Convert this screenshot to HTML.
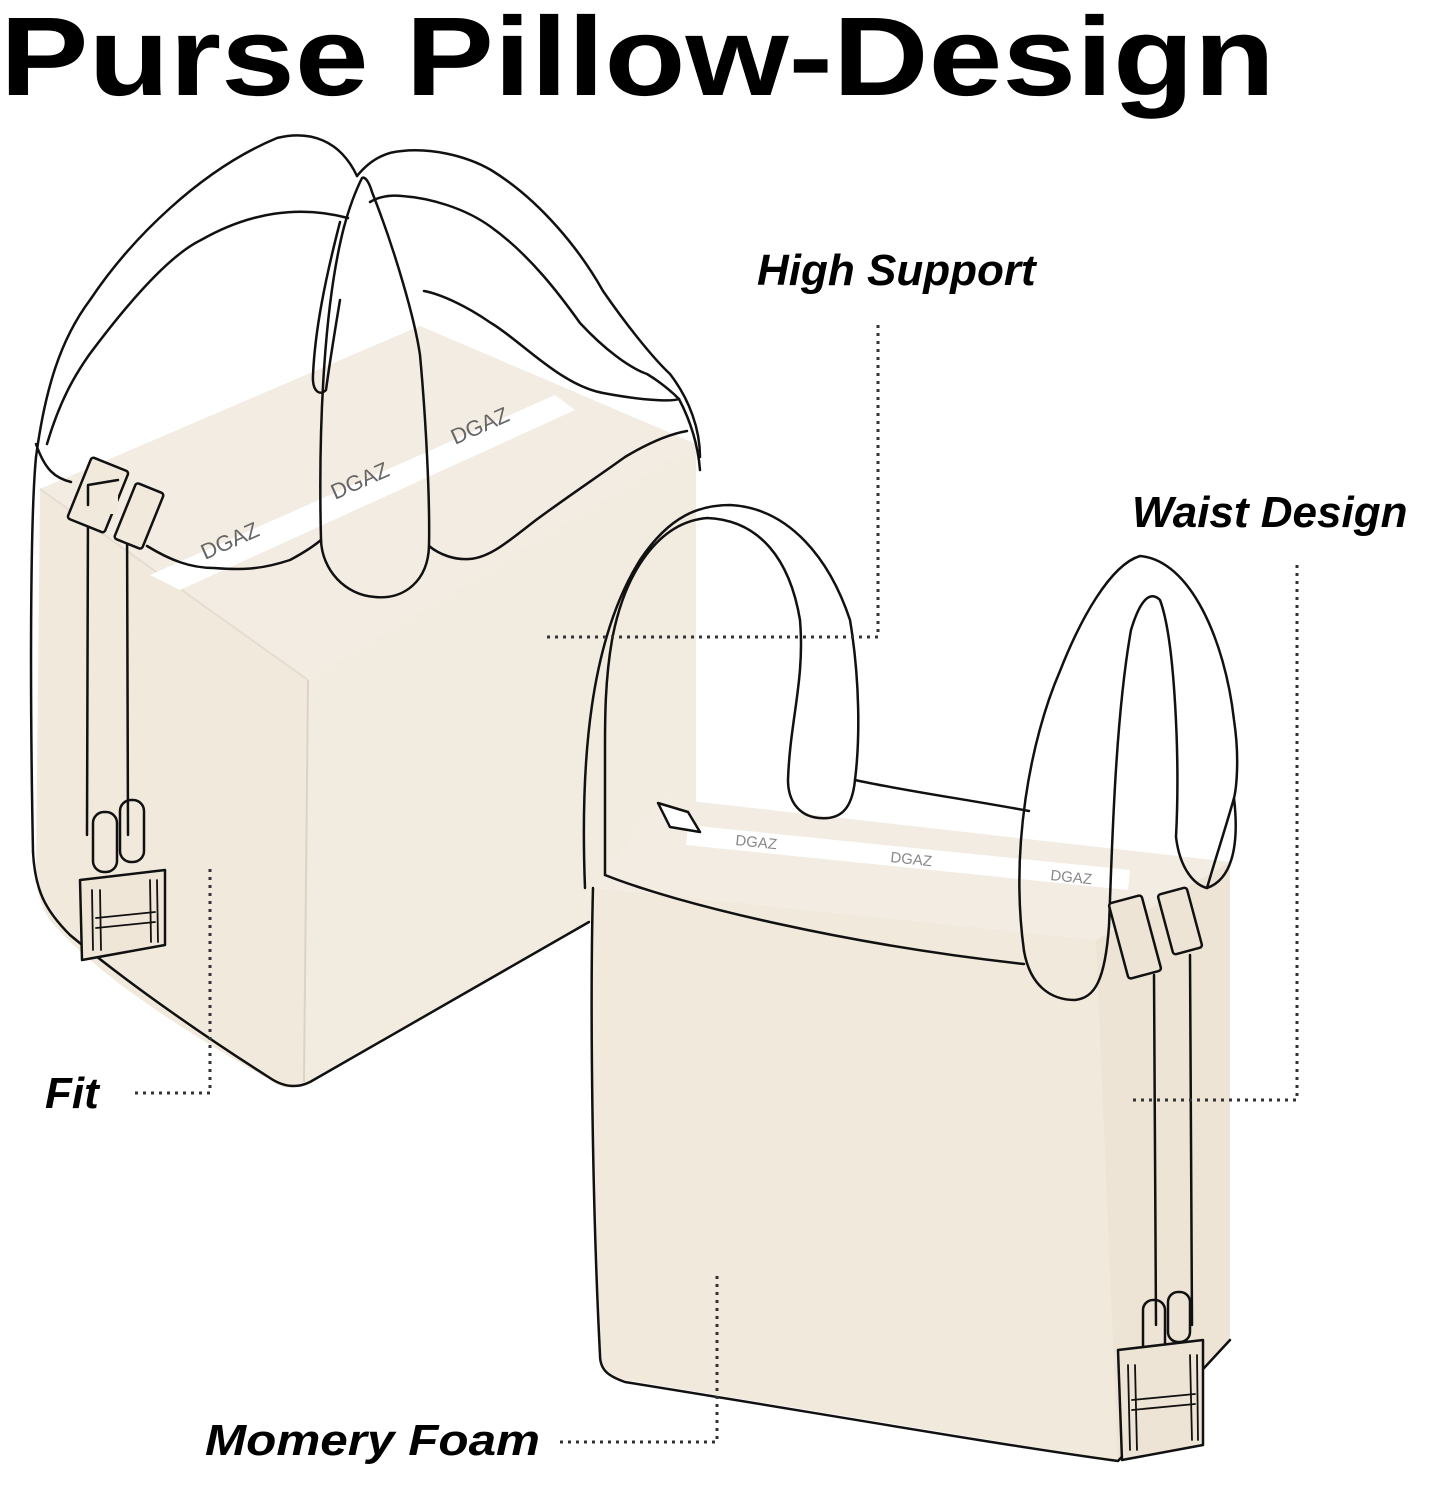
<!DOCTYPE html>
<html><head><meta charset="utf-8"><style>
html,body{margin:0;padding:0;background:#fff;}
svg{display:block;}
</style></head><body>
<svg width="1439" height="1500" viewBox="0 0 1439 1500" xmlns="http://www.w3.org/2000/svg">
<text x="0" y="95" font-family="Liberation Sans, sans-serif" font-weight="bold" font-size="112" fill="#000" textLength="1275" lengthAdjust="spacingAndGlyphs">Purse Pillow-Design</text>

<!-- LEFT BAG box -->
<path d="M40,489 L420,326 L696,444 L696,832 L589,922 L304,1084 C290,1090 280,1088 270,1080 C200,1040 100,980 50,920 C40,905 36,890 36,870 Z" fill="#f1e9dc"/>
<path d="M40,489 L420,326 L696,444 L308,680 Z" fill="#f3ece2"/>
<path d="M308,680 L696,444 L696,832 L589,922 L304,1084 Z" fill="#f2ebe0"/>
<line x1="308" y1="680" x2="304" y2="1082" stroke="#ddd3c4" stroke-width="2"/>
<line x1="40" y1="489" x2="308" y2="680" stroke="#e6ddd0" stroke-width="2"/>
<!-- tape -->
<path d="M150,575 L555,395 L575,410 L180,590 Z" fill="#fff"/>
<text x="205" y="560" font-family="Liberation Sans, sans-serif" font-size="22" fill="#666" transform="rotate(-24 205 560)">DGAZ</text>
<text x="335" y="500" font-family="Liberation Sans, sans-serif" font-size="22" fill="#666" transform="rotate(-24 335 500)">DGAZ</text>
<text x="455" y="445" font-family="Liberation Sans, sans-serif" font-size="22" fill="#666" transform="rotate(-24 455 445)">DGAZ</text>

<g stroke="#111" stroke-width="2.5" fill="none" stroke-linecap="round" stroke-linejoin="round">
  <path d="M33,852 C35,890 45,910 70,935 C130,985 210,1040 270,1078 C285,1088 298,1088 310,1082 L589,922"/>
  <path d="M33,852 C30,700 30,520 36,457 C45,390 60,340 90,300 C130,240 200,170 277,138 C310,130 340,140 357,176"/>
  <path d="M47,444 C60,400 75,375 89,355 C130,300 170,255 201,240 C250,212 300,205 348,218"/>
  <path d="M36,444 C45,470 55,478 71,482 M147,546 C170,560 190,568 214,568 C240,570 260,570 290,560 C305,552 315,545 321,540"/>
  <path d="M321,540 C318,420 325,300 344,227 C350,205 356,190 362,178 C366,176 370,185 372,192 C395,250 415,320 420,355 C426,420 430,500 429,546 C428,580 405,600 375,597 C345,595 322,570 321,540"/>
  <path d="M340,222 C325,280 315,330 313,375 C312,392 320,396 326,390 C330,360 335,330 340,300"/>
  <path d="M429,546 C440,555 455,560 469,559 C490,558 510,540 536,520 C570,495 600,475 625,457 C650,442 670,434 687,431"/>
  <path d="M357,176 C370,160 385,152 402,151 C430,148 465,155 491,170 C540,200 580,250 603,291 C630,330 655,360 670,374 C690,400 700,430 700,457"/>
  <path d="M370,202 C380,196 392,195 402,196 C430,198 465,208 491,227 C530,255 560,295 580,323 C605,350 630,368 647,374 C665,385 675,395 679,399 C670,402 640,400 603,393 C560,385 520,340 491,323 C465,305 440,294 424,291"/>
  <path d="M679,399 C690,420 698,445 700,470"/>
  <!-- strap -->
  <path d="M88,505 L87,835 M127,515 L128,835"/>
  <!-- buckle -->
  <rect x="78" y="462" width="40" height="66" rx="3" fill="#f1e9dc" transform="rotate(22 98 495)"/>
  <rect x="124" y="486" width="30" height="60" rx="3" fill="#f1e9dc" transform="rotate(22 139 516)"/>
  <rect x="88" y="484" width="30" height="30" fill="#f1e9dc" stroke="none"/>
  <path d="M88,505 L88,485 L118,480"/>
  <!-- shackles -->
  <rect x="93" y="812" width="24" height="60" rx="11"/>
  <rect x="120" y="800" width="24" height="62" rx="11"/>
  <path d="M80,880 L165,870 L165,945 L82,960 Z" fill="#efe6d8"/>
  <path d="M92,890 L93,950 M100,890 L101,950 M150,880 L151,942 M157,880 L158,942 M96,918 L155,912 M96,928 L155,922" stroke-width="1.8"/>
</g>

<!-- RIGHT BAG box -->
<path d="M593,888 L663,798 L1230,862 L1230,1340 L1118,1461 L625,1380 C605,1376 600,1370 600,1355 C592,1200 590,1000 593,888 Z" fill="#f1e9dc"/>
<path d="M593,888 L663,798 L1230,862 L1096,940 Z" fill="#f3ece2"/>
<path d="M1096,940 L1230,862 L1230,1340 L1118,1461 Z" fill="#ede4d6"/>
<path d="M688,825 L1130,870 L1128,890 L686,845 Z" fill="#fff"/>
<text x="735" y="845" font-family="Liberation Sans, sans-serif" font-size="15" fill="#888" transform="rotate(6 735 845)">DGAZ</text>
<text x="890" y="862" font-family="Liberation Sans, sans-serif" font-size="15" fill="#888" transform="rotate(6 890 862)">DGAZ</text>
<text x="1050" y="880" font-family="Liberation Sans, sans-serif" font-size="15" fill="#888" transform="rotate(6 1050 880)">DGAZ</text>

<g stroke="#111" stroke-width="2.5" fill="none" stroke-linecap="round" stroke-linejoin="round">
  <path d="M593,888 C590,1000 592,1200 600,1355 C600,1370 608,1376 625,1382 C800,1410 1000,1445 1118,1461 L1230,1340"/>
  <path d="M585,888 C580,760 590,640 640,560 C670,515 700,505 730,505 C790,508 830,560 850,620 C860,680 860,740 855,780 C852,810 840,820 819,818 C798,816 788,800 788,780 C790,720 805,680 800,620 C790,560 760,520 707,518 C660,522 625,570 612,640 C605,680 605,720 605,747 C605,800 605,845 605,875"/>
  <path d="M605,875 C680,905 850,945 1024,964"/>
  <path d="M855,780 C900,790 970,800 1029,811"/>
  <path d="M658,803 L688,812 L700,832 L670,827 Z" fill="#fff"/>
  <path d="M1024,951 C1010,850 1030,740 1060,671 C1080,620 1110,565 1140,556 C1190,560 1225,640 1234,720 C1240,760 1236,790 1234,798 C1225,830 1215,860 1207,888 M1234,798 C1240,850 1230,880 1207,888"/>
  <path d="M1024,951 C1030,985 1050,1000 1075,1000 C1095,998 1105,980 1109,926 C1112,850 1115,720 1131,630 C1140,600 1150,590 1160,600 C1175,640 1180,760 1176,837 C1180,870 1195,885 1207,888"/>
  <path d="M1154,975 L1156,1325 M1190,955 L1192,1325"/>
  <rect x="1118" y="898" width="34" height="78" rx="3" fill="#ede4d6" transform="rotate(-15 1135 937)"/>
  <rect x="1165" y="890" width="30" height="62" rx="3" fill="#ede4d6" transform="rotate(-15 1180 921)"/>
  <rect x="1143" y="1300" width="22" height="55" rx="10"/>
  <rect x="1168" y="1292" width="22" height="50" rx="10"/>
  <path d="M1118,1350 L1203,1340 L1203,1445 L1122,1460 Z" fill="#ede4d6"/>
  <path d="M1128,1365 L1130,1450 M1135,1365 L1137,1450 M1190,1355 L1192,1440 M1197,1355 L1198,1440 M1132,1400 L1195,1394 M1132,1410 L1195,1404" stroke-width="1.8"/>
</g>

<g stroke="#333" stroke-width="3" stroke-dasharray="3 5" fill="none">
  <path d="M878,325 L878,637 L543,637"/>
  <path d="M1297,565 L1297,1100 L1133,1100"/>
  <path d="M135,1093 L210,1093 L210,868"/>
  <path d="M560,1442 L717,1442 L717,1276"/>
</g>

<g font-family="Liberation Sans, sans-serif" font-weight="bold" font-style="italic" font-size="44" fill="#000">
  <text x="757" y="285">High Support</text>
  <text x="1132" y="527">Waist Design</text>
  <text x="45" y="1108">Fit</text>
  <text x="205" y="1455" textLength="335" lengthAdjust="spacingAndGlyphs">Momery Foam</text>
</g>
</svg>
</body></html>
